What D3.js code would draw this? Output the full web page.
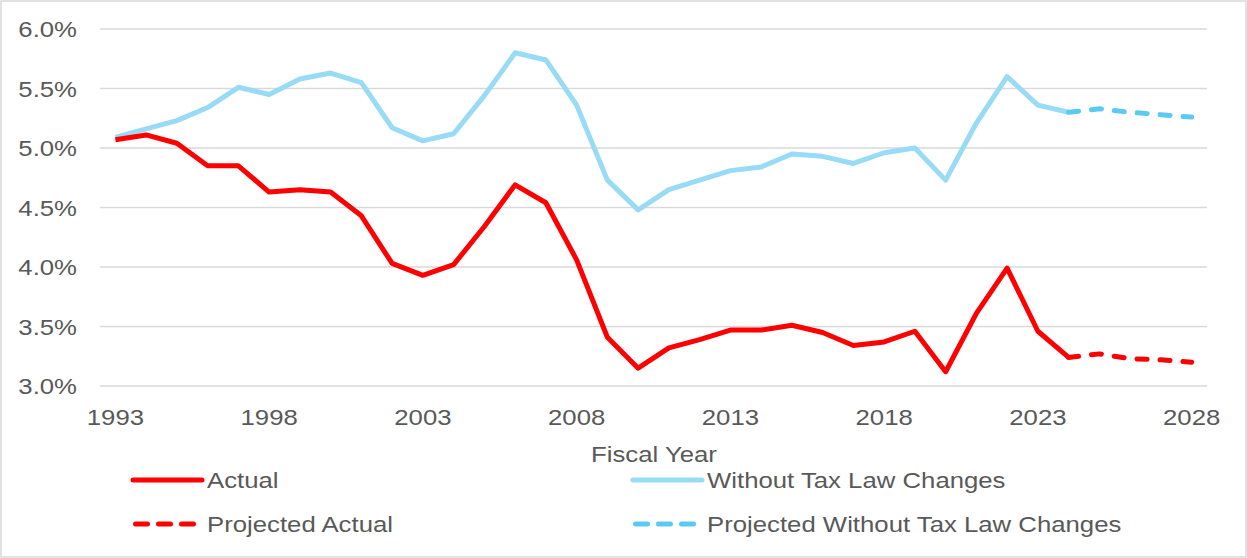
<!DOCTYPE html>
<html>
<head>
<meta charset="utf-8">
<script src="https://cdn.jsdelivr.net/npm/d3@7"></script>
<style>
  html, body { margin: 0; padding: 0; background: #fff; }
  svg { display: block; font-family: "Liberation Sans", Arial, sans-serif; }
</style>
</head>
<body>
<svg id="chart" width="1247" height="558"></svg>
<script>
// Fiscal years 1993–2028
const years = d3.range(1993, 2029);

// Revenue as a share of the economy (%), actual through 2024, projected after
const actual = [5.07, 5.11, 5.04, 4.85, 4.85, 4.63, 4.65, 4.63, 4.43, 4.03,
                3.93, 4.02, 4.34, 4.69, 4.54, 4.06, 3.41, 3.15, 3.32, 3.39,
                3.47, 3.47, 3.51, 3.45, 3.34, 3.37, 3.46, 3.12, 3.61, 3.99,
                3.46, 3.24];
const projectedActual = [3.24, 3.27, 3.23, 3.22, 3.20];

const withoutChanges = [5.09, 5.16, 5.23, 5.34, 5.51, 5.45, 5.58, 5.63, 5.55, 5.17,
                        5.06, 5.12, 5.44, 5.80, 5.74, 5.36, 4.73, 4.48, 4.65, 4.73,
                        4.81, 4.84, 4.95, 4.93, 4.87, 4.96, 5.00, 4.73, 5.21, 5.60,
                        5.36, 5.30];
const projectedWithout = [5.30, 5.33, 5.30, 5.28, 5.26];

const projYears = d3.range(2024, 2029);
const yTicks = [3.0, 3.5, 4.0, 4.5, 5.0, 5.5, 6.0];
const xTicks = [1993, 1998, 2003, 2008, 2013, 2018, 2023, 2028];

const legendItems = [
  { label: "Actual", color: "#FF0000", dash: null, col: 0, row: 0 },
  { label: "Without Tax Law Changes", color: "#97DBF7", dash: null, col: 1, row: 0 },
  { label: "Projected Actual", color: "#FF0000", dash: "12,11", col: 0, row: 1 },
  { label: "Projected Without Tax Law Changes", color: "#5BC9F1", dash: "12,11", col: 1, row: 1 }
];

const svg = d3.select("#chart");
const W = 1247, H = 558;
const plot = { left: 100, right: 1207, top: 29, bottom: 386 };
const textColor = "#595959";
const fontSize = 22;
const stretch = 1.17; // wide-set label text

// places a horizontally widened label at (px, py)
function label(parent, px, py, str, anchor) {
  return parent.append("text")
    .attr("transform", `translate(${px},${py}) scale(${stretch},1)`)
    .attr("text-anchor", anchor)
    .attr("fill", textColor)
    .attr("font-size", fontSize)
    .text(str);
}

// chart border
svg.append("rect")
  .attr("x", 1).attr("y", 1).attr("width", W - 2).attr("height", H - 2)
  .attr("fill", "#fff").attr("stroke", "#D9D9D9").attr("stroke-width", 1.5);

const x = d3.scalePoint().domain(years).range([plot.left, plot.right]).padding(0.5);
const y = d3.scaleLinear().domain([3.0, 6.0]).range([plot.bottom, plot.top]);

// horizontal gridlines
svg.append("g").selectAll("line").data(yTicks).join("line")
  .attr("x1", plot.left).attr("x2", plot.right)
  .attr("y1", d => y(d)).attr("y2", d => y(d))
  .attr("stroke", "#D9D9D9").attr("stroke-width", 1.3);

// y axis labels
const gy = svg.append("g");
yTicks.forEach(t => label(gy, 77, y(t) + 8, t.toFixed(1) + "%", "end"));

// x axis labels
const gx = svg.append("g");
xTicks.forEach(t => label(gx, x(t), 425, String(t), "middle"));

// axis title
label(svg, 654, 462, "Fiscal Year", "middle");

const line = d3.line().x(d => x(d[0])).y(d => y(d[1]));
const histYears = years.slice(0, actual.length);

function drawSeries(xs, vals, color, dash) {
  svg.append("path")
    .datum(xs.map((yr, i) => [yr, vals[i]]))
    .attr("d", line)
    .attr("fill", "none")
    .attr("stroke", color)
    .attr("stroke-width", 5)
    .attr("stroke-linejoin", "round")
    .attr("stroke-linecap", dash ? "round" : "butt")
    .attr("stroke-dasharray", dash);
}

drawSeries(histYears, withoutChanges, "#97DBF7", null);
drawSeries(projYears, projectedWithout, "#5BC9F1", "10,13");
drawSeries(histYears, actual, "#FF0000", null);
drawSeries(projYears, projectedActual, "#FF0000", "10,13");

// legend
const legX = [133, 633], legY = [480, 524];
const leg = svg.append("g").selectAll("g").data(legendItems).join("g")
  .attr("transform", d => `translate(${legX[d.col]},${legY[d.row]})`);
leg.append("line")
  .attr("x1", d => d.dash ? 2.5 : 0).attr("x2", d => d.dash ? 62 : 69)
  .attr("y1", 0).attr("y2", 0)
  .attr("stroke", d => d.color).attr("stroke-width", 5)
  .attr("stroke-linecap", "round")
  .attr("stroke-dasharray", d => d.dash);
leg.each(function(d) { label(d3.select(this), 74, 8, d.label, "start"); });
</script>
</body>
</html>
